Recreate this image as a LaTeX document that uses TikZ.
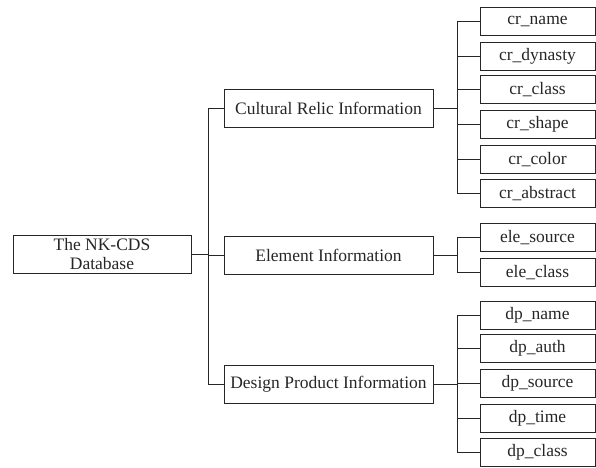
\documentclass[tikz,border=0pt]{standalone}
\usepackage{fontspec}
\setmainfont{Liberation Serif}
\begin{document}
\begin{tikzpicture}[x=1pt,y=-1pt,
  box/.style={draw=black!85,line width=1pt,inner sep=0pt,font=\fontsize{17.5}{21}\selectfont,text=black!85},
  rootbox/.style={box,minimum width=178pt,minimum height=38pt,align=center},
  midbox/.style={box,minimum width=209pt,minimum height=38pt},
  leafbox/.style={box,minimum width=115pt,minimum height=28pt},
  link/.style={draw=black!85,line width=1pt}]
\useasboundingbox (0,0) rectangle (596,467);

% root and second level
\node[rootbox] (root) at (102,254.5) {The NK-CDS\\[-2pt]Database};
\node[midbox] (cr)  at (328.5,108.5) {Cultural Relic Information};
\node[midbox] (ele) at (328.5,255.5) {Element Information};
\node[midbox] (dp)  at (328.5,384.5) {Design Product Information};

% leaves
\node[leafbox] (cr1) at (537.5,21.5)  {cr\_name};
\node[leafbox] (cr2) at (537.5,56.5)  {cr\_dynasty};
\node[leafbox] (cr3) at (537.5,89.5)  {cr\_class};
\node[leafbox] (cr4) at (537.5,124.5) {cr\_shape};
\node[leafbox] (cr5) at (537.5,159.5) {cr\_color};
\node[leafbox] (cr6) at (537.5,193.5) {cr\_abstract};
\node[leafbox] (el1) at (537.5,237.5) {ele\_source};
\node[leafbox] (el2) at (537.5,272.5) {ele\_class};
\node[leafbox] (dp1) at (537.5,315.5) {dp\_name};
\node[leafbox] (dp2) at (537.5,348.5) {dp\_auth};
\node[leafbox] (dp3) at (537.5,383.5) {dp\_source};
\node[leafbox] (dp4) at (537.5,418.5) {dp\_time};
\node[leafbox] (dp5) at (537.5,452.5) {dp\_class};

% trunk from the root
\coordinate (tr) at (208.5,254.5);
\draw[link] (root.east) -- (tr);
\draw[link] (cr.west) -| (tr) |- (dp.west);
\draw[link] (tr) |- (ele.west);

% branches to the leaves
\foreach \m/\first/\last/\list in {cr/cr1/cr6/{cr1,cr2,cr3,cr4,cr5,cr6},ele/el1/el2/{el1,el2},dp/dp1/dp5/{dp1,dp2,dp3,dp4,dp5}}{
  \coordinate (\m-b) at ([xshift=24pt]\m.east);
  \draw[link] (\m.east) -- (\m-b);
  \draw[link] (\first.west) -| (\m-b) |- (\last.west);
  \foreach \l in \list { \draw[link] (\l.west) -- (\l.west -| \m-b); }
}
\end{tikzpicture}
\end{document}
